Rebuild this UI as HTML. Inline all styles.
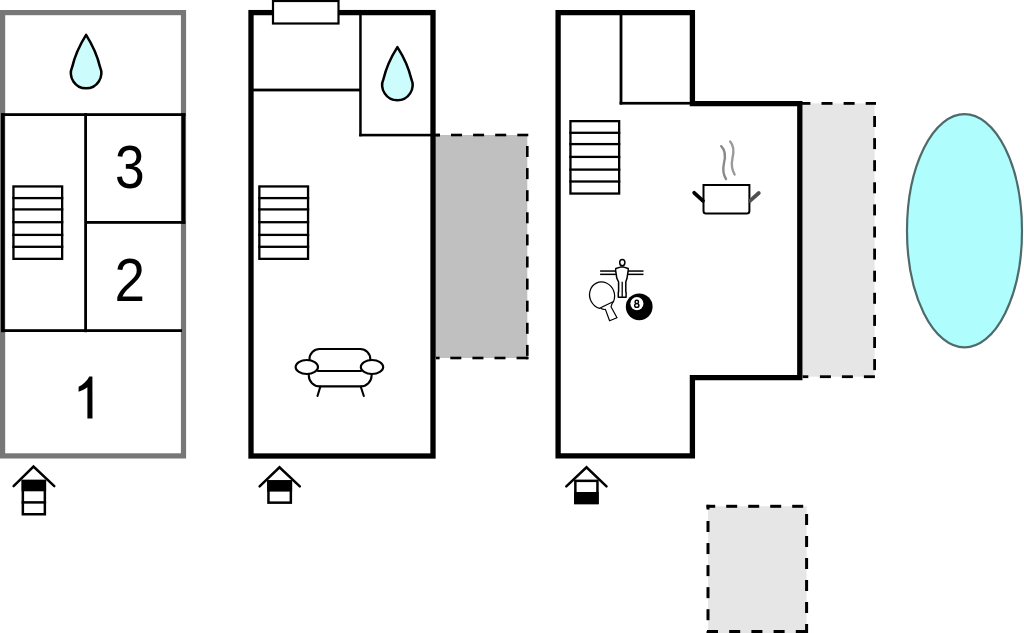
<!DOCTYPE html>
<html><head><meta charset="utf-8"><style>
html,body{margin:0;padding:0;background:#fff;width:1024px;height:633px;overflow:hidden;font-family:"Liberation Sans",sans-serif;}
svg{display:block;position:absolute;left:0;top:0;}
</style></head><body>
<svg width="1024" height="633" viewBox="0 0 1024 633">
<rect x="435" y="135" width="92.3" height="223" fill="#c0c0c0"/>
<rect x="801" y="103.4" width="73.6" height="273.3" fill="#e6e6e6"/>
<rect x="708" y="506.3" width="98.6" height="130" fill="#e6e6e6"/>
<ellipse cx="964.5" cy="230.8" rx="57.5" ry="116.6" fill="#b0fdfd" stroke="#4f6a6a" stroke-width="2.2"/>
<rect x="436.00" y="133.70" width="4.00" height="2.60" fill="#000"/>
<rect x="451.00" y="133.70" width="11.00" height="2.60" fill="#000"/>
<rect x="473.10" y="133.70" width="11.00" height="2.60" fill="#000"/>
<rect x="495.20" y="133.70" width="11.00" height="2.60" fill="#000"/>
<rect x="517.30" y="133.70" width="11.00" height="2.60" fill="#000"/>
<rect x="526.00" y="146.00" width="2.60" height="11.00" fill="#000"/>
<rect x="526.00" y="168.10" width="2.60" height="11.00" fill="#000"/>
<rect x="526.00" y="190.20" width="2.60" height="11.00" fill="#000"/>
<rect x="526.00" y="212.30" width="2.60" height="11.00" fill="#000"/>
<rect x="526.00" y="234.40" width="2.60" height="11.00" fill="#000"/>
<rect x="526.00" y="256.50" width="2.60" height="11.00" fill="#000"/>
<rect x="526.00" y="278.60" width="2.60" height="11.00" fill="#000"/>
<rect x="526.00" y="300.70" width="2.60" height="11.00" fill="#000"/>
<rect x="526.00" y="322.80" width="2.60" height="11.00" fill="#000"/>
<rect x="526.00" y="344.90" width="2.60" height="11.00" fill="#000"/>
<rect x="436.00" y="356.70" width="3.60" height="2.60" fill="#000"/>
<rect x="450.30" y="356.70" width="11.00" height="2.60" fill="#000"/>
<rect x="472.40" y="356.70" width="11.00" height="2.60" fill="#000"/>
<rect x="494.50" y="356.70" width="11.00" height="2.60" fill="#000"/>
<rect x="516.60" y="356.70" width="11.00" height="2.60" fill="#000"/>
<rect x="526.0" y="356.7" width="2.6" height="2.6" fill="#000"/>
<rect x="801.00" y="102.00" width="9.40" height="2.80" fill="#000"/>
<rect x="821.50" y="102.00" width="11.00" height="2.80" fill="#000"/>
<rect x="843.60" y="102.00" width="11.00" height="2.80" fill="#000"/>
<rect x="865.70" y="102.00" width="10.30" height="2.80" fill="#000"/>
<rect x="873.20" y="116.00" width="2.80" height="11.00" fill="#000"/>
<rect x="873.20" y="138.10" width="2.80" height="11.00" fill="#000"/>
<rect x="873.20" y="160.20" width="2.80" height="11.00" fill="#000"/>
<rect x="873.20" y="182.30" width="2.80" height="11.00" fill="#000"/>
<rect x="873.20" y="204.40" width="2.80" height="11.00" fill="#000"/>
<rect x="873.20" y="226.50" width="2.80" height="11.00" fill="#000"/>
<rect x="873.20" y="248.60" width="2.80" height="11.00" fill="#000"/>
<rect x="873.20" y="270.70" width="2.80" height="11.00" fill="#000"/>
<rect x="873.20" y="292.80" width="2.80" height="11.00" fill="#000"/>
<rect x="873.20" y="314.90" width="2.80" height="11.00" fill="#000"/>
<rect x="873.20" y="337.00" width="2.80" height="11.00" fill="#000"/>
<rect x="873.20" y="359.10" width="2.80" height="11.00" fill="#000"/>
<rect x="802.60" y="375.30" width="5.70" height="2.80" fill="#000"/>
<rect x="819.90" y="375.30" width="11.00" height="2.80" fill="#000"/>
<rect x="841.90" y="375.30" width="11.00" height="2.80" fill="#000"/>
<rect x="863.90" y="375.30" width="11.00" height="2.80" fill="#000"/>
<rect x="706.50" y="504.80" width="8.70" height="3.00" fill="#000"/>
<rect x="726.20" y="504.80" width="11.00" height="3.00" fill="#000"/>
<rect x="748.20" y="504.80" width="11.00" height="3.00" fill="#000"/>
<rect x="770.20" y="504.80" width="11.00" height="3.00" fill="#000"/>
<rect x="792.20" y="504.80" width="11.00" height="3.00" fill="#000"/>
<rect x="706.50" y="504.80" width="3.00" height="4.70" fill="#000"/>
<rect x="706.50" y="521.00" width="3.00" height="11.00" fill="#000"/>
<rect x="706.50" y="543.05" width="3.00" height="11.00" fill="#000"/>
<rect x="706.50" y="565.10" width="3.00" height="11.00" fill="#000"/>
<rect x="706.50" y="587.15" width="3.00" height="11.00" fill="#000"/>
<rect x="706.50" y="609.20" width="3.00" height="11.00" fill="#000"/>
<rect x="706.50" y="631.25" width="3.00" height="8.75" fill="#000"/>
<rect x="805.10" y="514.00" width="3.00" height="11.00" fill="#000"/>
<rect x="805.10" y="536.00" width="3.00" height="11.00" fill="#000"/>
<rect x="805.10" y="558.00" width="3.00" height="11.00" fill="#000"/>
<rect x="805.10" y="580.00" width="3.00" height="11.00" fill="#000"/>
<rect x="805.10" y="602.00" width="3.00" height="11.00" fill="#000"/>
<rect x="805.10" y="624.00" width="3.00" height="11.00" fill="#000"/>
<rect x="707.00" y="630.00" width="11.00" height="3.00" fill="#000"/>
<rect x="729.20" y="630.00" width="11.00" height="3.00" fill="#000"/>
<rect x="751.40" y="630.00" width="11.00" height="3.00" fill="#000"/>
<rect x="773.60" y="630.00" width="11.00" height="3.00" fill="#000"/>
<rect x="795.80" y="630.00" width="11.00" height="3.00" fill="#000"/>
<rect x="2.6" y="12.6" width="180.9" height="443.3" fill="none" stroke="#777777" stroke-width="5.2"/>
<rect x="1" y="113.2" width="184.5" height="2.8" fill="#000"/>
<rect x="1" y="113.2" width="3.7" height="219" fill="#000"/>
<rect x="84.2" y="113.2" width="2.8" height="219" fill="#000"/>
<rect x="181.5" y="113.2" width="3.8" height="110.5" fill="#000"/>
<rect x="85" y="221" width="100.3" height="2.8" fill="#000"/>
<rect x="1" y="329.2" width="181" height="2.8" fill="#000"/>
<rect x="13.45" y="186.45" width="48.70" height="72.40" fill="none" stroke="#000" stroke-width="2.3"/>
<rect x="12.30" y="196.95" width="51.00" height="2.3" fill="#000"/>
<rect x="12.30" y="208.25" width="51.00" height="2.3" fill="#000"/>
<rect x="12.30" y="221.05" width="51.00" height="2.3" fill="#000"/>
<rect x="12.30" y="233.75" width="51.00" height="2.3" fill="#000"/>
<rect x="12.30" y="245.65" width="51.00" height="2.3" fill="#000"/>
<rect x="259.35" y="186.45" width="48.70" height="72.40" fill="none" stroke="#000" stroke-width="2.3"/>
<rect x="258.20" y="196.95" width="51.00" height="2.3" fill="#000"/>
<rect x="258.20" y="208.25" width="51.00" height="2.3" fill="#000"/>
<rect x="258.20" y="221.05" width="51.00" height="2.3" fill="#000"/>
<rect x="258.20" y="233.75" width="51.00" height="2.3" fill="#000"/>
<rect x="258.20" y="245.65" width="51.00" height="2.3" fill="#000"/>
<rect x="570.45" y="121.15" width="48.70" height="72.40" fill="none" stroke="#000" stroke-width="2.3"/>
<rect x="569.30" y="131.65" width="51.00" height="2.3" fill="#000"/>
<rect x="569.30" y="142.95" width="51.00" height="2.3" fill="#000"/>
<rect x="569.30" y="155.75" width="51.00" height="2.3" fill="#000"/>
<rect x="569.30" y="168.45" width="51.00" height="2.3" fill="#000"/>
<rect x="569.30" y="180.35" width="51.00" height="2.3" fill="#000"/>
<path d="M86.10,34.85 Q75.92,50.98 72.15,67.12 A15.20,15.20 0 1 0 100.05,67.12 Q96.28,50.98 86.10,34.85 Z" fill="#ccfcfc" stroke="#000" stroke-width="2.5" stroke-linejoin="round"/>
<path d="M397.40,47.05 Q387.23,63.01 383.47,78.97 A15.20,15.20 0 1 0 411.33,78.97 Q407.57,63.01 397.40,47.05 Z" fill="#ccfcfc" stroke="#000" stroke-width="2.5" stroke-linejoin="round"/>
<text transform="translate(129.7,188.1) scale(0.87,1)" font-family="Liberation Sans, sans-serif" font-size="61.3" text-anchor="middle" fill="#000">3</text>
<text transform="translate(129.85,300.6) scale(0.90,1)" font-family="Liberation Sans, sans-serif" font-size="61" text-anchor="middle" fill="#000">2</text>
<path d="M89.3,376.6 L92.4,376.6 L92.5,418.6 L87.4,418.6 L87.4,387.3 C85.2,389 82,390.5 78.6,391.8 L78.6,386.8 C83,384.8 87,381 89.3,376.6 Z" fill="#000"/>
<rect x="251" y="12.6" width="182" height="443.4" fill="none" stroke="#000" stroke-width="5.3"/>
<rect x="273" y="1" width="65.5" height="22.5" fill="#fff" stroke="#000" stroke-width="2.2"/>
<rect x="252" y="88.6" width="109" height="2.8" fill="#000"/>
<rect x="359.2" y="14" width="2.5" height="122.3" fill="#000"/>
<rect x="359.2" y="133.8" width="80.6" height="2.6" fill="#000"/>
<g fill="none" stroke="#000" stroke-width="2.1" stroke-linecap="round"><path d="M309.5,360 L309.5,359 A10,10 0 0 1 319.5,349 L360.3,349 A10,10 0 0 1 370.3,359 L370.3,360"/><path d="M318,371 L361,371"/><path d="M308.8,372 L308.8,375.4 A11,11 0 0 0 319.8,386.4 L360.6,386.4 A11,11 0 0 0 371.6,375.4 L371.6,372"/><path d="M320.3,386.7 L317.5,396"/><path d="M360.8,386.7 L363.8,396"/></g>
<ellipse cx="306.8" cy="367" rx="11.2" ry="7" fill="#fff" stroke="#000" stroke-width="2.1"/>
<ellipse cx="372" cy="367" rx="11.2" ry="7" fill="#fff" stroke="#000" stroke-width="2.1"/>
<path d="M558.1,12.6 L692.4,12.6 L692.4,103.6 L799.8,103.6 L799.8,377.6 L692.4,377.6 L692.4,455.8 L558.1,455.8 Z" fill="none" stroke="#000" stroke-width="5.3"/>
<rect x="619.6" y="14" width="2.8" height="90.5" fill="#000"/>
<rect x="619.6" y="101.9" width="72" height="2.7" fill="#000"/>
<path d="M703.5,185 L749.4,185 L749.4,211 Q749.4,213.6 746.8,213.6 L706.1,213.6 Q703.5,213.6 703.5,211 Z" fill="#fff" stroke="#000" stroke-width="2"/>
<path d="M694.2,192.8 L703,200.8" stroke="#000" stroke-width="3.8" stroke-linecap="round"/>
<path d="M750,200.8 L758.8,193" stroke="#505050" stroke-width="3.8" stroke-linecap="round"/>
<path d="M721.2,146.2 C726,151 725.5,157 724,163 C722.5,170 723.5,175 726,179" fill="none" stroke="#8a8a8a" stroke-width="2.4" stroke-linecap="round"/>
<path d="M730.2,141.5 C734,146 734,152 732.5,158 C731,165 732,170 734.6,174.5" fill="none" stroke="#9a9a9a" stroke-width="2.4" stroke-linecap="round"/>
<rect x="600.1" y="270.3" width="43.4" height="1.5" fill="#000"/>
<rect x="600.1" y="273.6" width="43.4" height="1.5" fill="#000"/>
<path d="M620.4,267.1 L615.8,268.5 L615.6,270.3 L616.8,278.1 L618.6,282 L618.6,292 L618.3,292.3 L618.3,297.3 L626.1,297.3 L626.1,292.3 L625.8,292 L625.8,282 L627,278.3 L628.2,270.3 L628.2,268.5 L623.8,267.1 Z" fill="#fff" stroke="#000" stroke-width="1.5" stroke-linejoin="round"/>
<ellipse cx="622.3" cy="262.6" rx="2.6" ry="3.2" fill="#fff" stroke="#000" stroke-width="1.5"/>
<path d="M622.2,281.7 L622.2,297" stroke="#000" stroke-width="1.3"/>
<path d="M600.5,308.3 Q603.5,309.8 605.4,309.4 L609.6,320.8 L617,317.7 L611,306.8 Q611.6,303.4 613.5,301.5" fill="#fff" stroke="#000" stroke-width="1.2" stroke-linejoin="round"/>
<path d="M613.5,301.5 A12.4,13.5 -20 1 0 599.6,308.3 Z" fill="#fff" stroke="#000" stroke-width="1.25" stroke-linejoin="round"/>
<circle cx="639.2" cy="306.8" r="13.4" fill="#000"/>
<circle cx="636.9" cy="303.6" r="6.55" fill="#fff"/>
<ellipse cx="636.8" cy="301.9" rx="1.75" ry="1.6" fill="none" stroke="#000" stroke-width="1.4"/>
<ellipse cx="636.8" cy="305.5" rx="2.15" ry="1.85" fill="none" stroke="#000" stroke-width="1.4"/>
<rect x="21.60" y="479.80" width="24.50" height="11.50" fill="#000"/>
<rect x="22.85" y="481.05" width="22.00" height="33.20" fill="none" stroke="#000" stroke-width="2.5"/>
<rect x="21.60" y="501.15" width="24.50" height="2.5" fill="#000"/>
<path d="M13.60,486.20 L33.50,466.60 L54.30,486.20" fill="none" stroke="#000" stroke-width="2.5" stroke-linecap="round" stroke-linejoin="miter"/>
<rect x="267.20" y="480.20" width="24.90" height="11.40" fill="#000"/>
<rect x="268.45" y="481.45" width="22.40" height="21.20" fill="none" stroke="#000" stroke-width="2.5"/>
<path d="M259.60,486.40 L279.50,467.30 L299.80,486.40" fill="none" stroke="#000" stroke-width="2.5" stroke-linecap="round" stroke-linejoin="miter"/>
<rect x="574.10" y="492.00" width="24.60" height="12.20" fill="#000"/>
<rect x="575.35" y="480.85" width="22.10" height="22.10" fill="none" stroke="#000" stroke-width="2.5"/>
<path d="M566.30,486.30 L586.50,467.30 L606.50,486.30" fill="none" stroke="#000" stroke-width="2.5" stroke-linecap="round" stroke-linejoin="miter"/>
</svg>
</body></html>
